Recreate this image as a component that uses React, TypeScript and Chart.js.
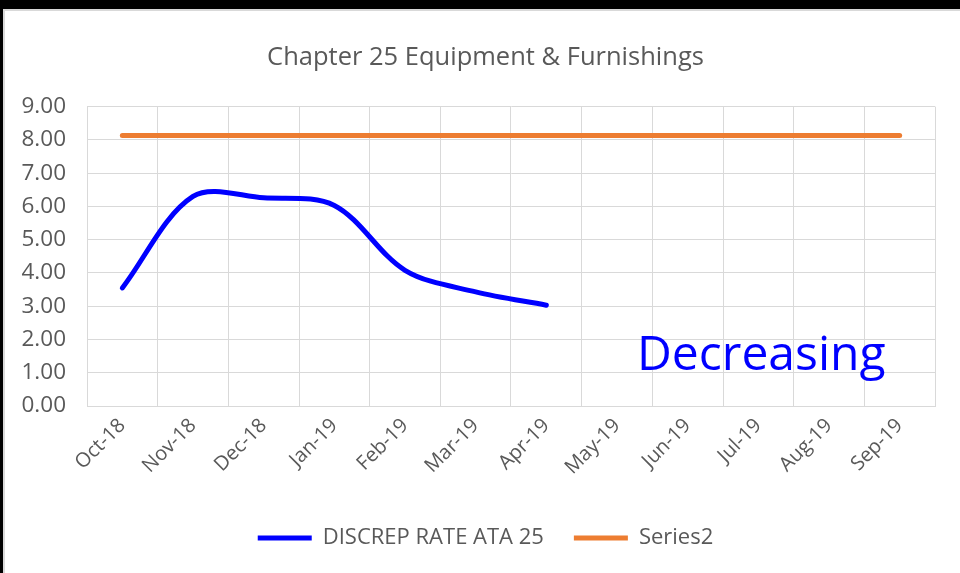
import React, { useEffect, useRef } from 'react';
import { Chart, registerables } from 'chart.js';

Chart.register(...registerables);

const chartTitle = 'Chapter 25 Equipment & Furnishings';
const categories = ['Oct-18', 'Nov-18', 'Dec-18', 'Jan-19', 'Feb-19', 'Mar-19', 'Apr-19', 'May-19', 'Jun-19', 'Jul-19', 'Aug-19', 'Sep-19'];
const discrepRate = [3.55, 6.3, 6.26, 6.03, 4.08, 3.43, 3.03, null, null, null, null, null];
const series2 = [8.13, 8.13, 8.13, 8.13, 8.13, 8.13, 8.13, 8.13, 8.13, 8.13, 8.13, 8.13];
const seriesNames = ['DISCREP RATE ATA 25', 'Series2'];
const annotationText = 'Decreasing';

const FONT = '"Open Sans", "Noto Sans", sans-serif';
const TEXT = '#595959';
const GRID = '#d9d9d9';

const annotationPlugin = {
  id: 'decreasingLabel',
  afterDraw(chart: any) {
    const ctx = chart.ctx;
    ctx.save();
    ctx.font = `48px ${FONT}`;
    ctx.fillStyle = '#0000ff';
    ctx.textAlign = 'left';
    ctx.textBaseline = 'alphabetic';
    ctx.fillText(annotationText, 632, 359);
    ctx.restore();
  },
};

// let the y-axis label area reach the canvas edge (labels sit in the left padding)
const yLabelAreaPlugin = {
  id: 'yLabelArea',
  afterLayout(chart: any) {
    const s = chart.scales.y;
    s.left = 0;
    s.width = s.right;
  },
};

export default function App() {
  const ref = useRef<HTMLCanvasElement>(null);
  useEffect(() => {
    const chart = new Chart(ref.current as HTMLCanvasElement, {
      type: 'line',
      data: {
        labels: categories,
        datasets: [
          {
            label: seriesNames[0],
            data: discrepRate,
            borderColor: '#0000ff',
            backgroundColor: '#0000ff',
            borderWidth: 5,
            tension: 0.33,
            pointRadius: 0,
            pointHoverRadius: 0,
            borderCapStyle: 'round',
            borderJoinStyle: 'round',
            spanGaps: false,
          },
          {
            label: seriesNames[1],
            data: series2,
            borderColor: '#ed7d31',
            backgroundColor: '#ed7d31',
            borderWidth: 5,
            tension: 0,
            pointRadius: 0,
            pointHoverRadius: 0,
            borderCapStyle: 'round',
          },
        ],
      } as any,
      options: {
        animation: false,
        responsive: false,
        maintainAspectRatio: false,
        layout: { padding: { left: 31, right: 25, top: 0, bottom: 14 } },
        plugins: {
          title: {
            display: true,
            text: chartTitle,
            color: TEXT,
            font: { family: FONT, size: 25.5, weight: 'normal' },
            padding: { top: 31, bottom: 34 },
          },
          legend: {
            position: 'bottom',
            labels: {
              usePointStyle: true,
              pointStyle: 'line',
              pointStyleWidth: 54,
              color: TEXT,
              font: { family: FONT, size: 22 },
              padding: 30,
            },
          },
          tooltip: { enabled: false },
        },
        scales: {
          x: {
            offset: true,
            grid: { offset: true, color: GRID, lineWidth: 1, drawTicks: false },
            border: { color: GRID },
            ticks: {
              color: TEXT,
              font: { family: FONT, size: 20 },
              minRotation: 45,
              maxRotation: 45,
              padding: 8,
              autoSkip: false,
            },
            afterFit: (s: any) => {
              s.height = 91;
            },
          },
          y: {
            min: 0,
            max: 9,
            grid: { color: GRID, lineWidth: 1, drawTicks: false },
            border: { color: GRID },
            ticks: {
              stepSize: 1,
              color: TEXT,
              font: { family: FONT, size: 22.5 },
              padding: 21,
              callback: (v: any) => Number(v).toFixed(2),
            },
            afterFit: (s: any) => {
              s.width = 51;
            },
          },
        },
      } as any,
      plugins: [annotationPlugin, yLabelAreaPlugin],
    });
    return () => chart.destroy();
  }, []);

  return (
    <div style={{ position: 'fixed', left: 0, top: 0, width: 960, height: 573, background: '#000', overflow: 'hidden' }}>
      <div
        style={{
          position: 'absolute',
          left: 3,
          top: 9,
          width: 957,
          height: 564,
          background: '#fff',
          borderTop: '2px solid #d9d9d9',
          borderLeft: '2px solid #d9d9d9',
          boxSizing: 'border-box',
        }}
      >
        <canvas ref={ref} width={955} height={562} style={{ display: 'block' }} />
      </div>
    </div>
  );
}
